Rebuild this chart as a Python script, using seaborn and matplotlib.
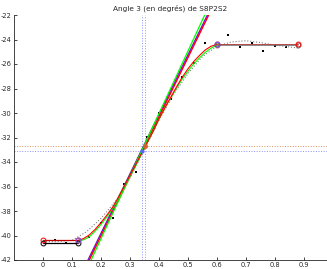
import matplotlib
matplotlib.use('Agg')
import matplotlib.pyplot as plt
import seaborn as sns

# measured points (black dots)
pts_x = [0.04, 0.08, 0.16, 0.20, 0.24, 0.28, 0.32, 0.36, 0.40, 0.44, 0.48,
         0.52, 0.56, 0.64, 0.68, 0.72, 0.76, 0.80, 0.84]
pts_y = [-40.35, -40.65, -40.1, -38.95, -38.55, -35.8, -34.85, -31.95, -30.0, -28.85, -27.1,
         -25.9, -24.3, -23.6, -24.65, -24.3, -24.9, -24.5, -24.6]

# smoothed fit (grey dotted)
fit_x = [0.0, 0.05, 0.10, 0.15, 0.20, 0.25, 0.30, 0.35, 0.40, 0.45, 0.50,
         0.55, 0.60, 0.65, 0.70, 0.75, 0.80, 0.85, 0.88]
fit_y = [-40.5, -40.5, -40.4, -39.7, -38.6, -37.2, -35.3, -33.0, -30.6, -28.5, -26.8,
         -25.4, -24.55, -24.2, -24.1, -24.25, -24.45, -24.6, -24.7]

# S-shaped model curves
curve_x = [0.12, 0.14, 0.16, 0.18, 0.20, 0.22, 0.24, 0.26, 0.28, 0.30, 0.32, 0.34,
           0.36, 0.38, 0.40, 0.42, 0.44, 0.46, 0.48, 0.50, 0.52, 0.54, 0.56, 0.58, 0.60]
red_curve = [-40.4, -40.25, -39.95, -39.5, -38.95, -38.35, -37.7, -36.9, -36.0, -35.1, -34.2, -33.3,
             -32.4, -31.5, -30.5, -29.6, -28.75, -27.9, -27.1, -26.4, -25.8, -25.3, -24.85, -24.55, -24.4]
green_curve = [-40.45, -40.35, -40.1, -39.65, -39.1, -38.5, -37.8, -37.0, -36.1, -35.2, -34.3, -33.35,
               -32.4, -31.5, -30.5, -29.6, -28.8, -28.0, -27.25, -26.6, -26.0, -25.5, -25.05, -24.7, -24.45]

# plateaus
low_x = [0.0, 0.12]
low_red = [-40.4, -40.4]
low_black = [-40.6, -40.6]
high_x = [0.6, 0.88]
high_red = [-24.4, -24.4]
high_black = [-24.45, -24.45]

# tangent lines: x where each crosses y=-42 and y=-22
tan_y = [-42, -22]
tan_lines = {
    'dimgray': [0.155, 0.567],
    'blue': [0.157, 0.569],
    'magenta': [0.158, 0.570],
    'red': [0.160, 0.572],
    'lime': [0.166, 0.558],
}

# inflection points (crosshairs)
blue_pt = (0.342, -33.08)
orange_pt = (0.353, -32.73)

sns.set_style('ticks')
plt.rcParams['axes.unicode_minus'] = False
fig = plt.figure(figsize=(3.27, 2.69), dpi=100)
ax = fig.add_axes([14 / 327, 9 / 269, 1 - 14 / 327, 245 / 269])

# crosshairs
ax.axvline(blue_pt[0], color='#9090ff', ls=':', lw=0.7)
ax.axhline(blue_pt[1], color='#9090ff', ls=':', lw=0.7)
ax.axvline(orange_pt[0], color='#d89060', ls=':', lw=0.7)
ax.axhline(orange_pt[1], color='#d89060', ls=':', lw=0.7)

for c, xs in tan_lines.items():
    sns.lineplot(x=xs, y=tan_y, color=c, lw=0.9, ax=ax, sort=False)

sns.lineplot(x=fit_x, y=fit_y, color='gray', ls=':', lw=0.8, ax=ax, sort=False)
sns.lineplot(x=curve_x, y=green_curve, color='lime', lw=0.8, ax=ax, sort=False)
sns.lineplot(x=curve_x, y=red_curve, color='red', lw=0.8, ax=ax, sort=False)

sns.lineplot(x=low_x, y=low_black, color='black', lw=0.9, marker='o', mfc='none',
             mec='black', ms=3.5, mew=0.7, ax=ax)
sns.lineplot(x=low_x, y=low_red, color='#c00000', lw=0.9, marker='o', mfc='none',
             mec='red', ms=3.5, mew=0.7, ax=ax)
sns.lineplot(x=high_x, y=high_black, color='dimgray', lw=1.1, marker='o', mfc='none',
             mec='dimgray', ms=3.5, mew=0.7, ax=ax)
sns.lineplot(x=high_x, y=high_red, color='#c04040', lw=0.6, marker='o', mfc='none',
             mec='red', ms=3.5, mew=0.7, ax=ax)
ax.plot([0.12], [-40.4], 'o', mfc='none', mec='#6060ff', ms=3.5, mew=0.7)
ax.plot([0.6], [-24.4], 'o', mfc='none', mec='#6060ff', ms=3.5, mew=0.7)

sns.scatterplot(x=pts_x, y=pts_y, color='black', s=2.5, marker='s', linewidth=0, ax=ax)

ax.plot([blue_pt[0]], [blue_pt[1]], 'o', color='#6060ff', ms=2)
ax.plot([orange_pt[0]], [orange_pt[1]], 'o', color='#d06030', ms=2.5)

ax.set_xlim(-0.1, 0.98)
ax.set_ylim(-42, -22)
ax.set_xticks([0, 0.1, 0.2, 0.3, 0.4, 0.5, 0.6, 0.7, 0.8, 0.9])
ax.set_xticklabels(['0', '0.1', '0.2', '0.3', '0.4', '0.5', '0.6', '0.7', '0.8', '0.9'])
ax.set_yticks(range(-42, -21, 2))
ax.tick_params(direction='in', labelsize=4.8, length=2, width=0.6, pad=1.5)
for s in ['top', 'right']:
    ax.spines[s].set_visible(False)
for s in ['left', 'bottom']:
    ax.spines[s].set_linewidth(0.6)
ax.set_title('Angle 3 (en degrés) de S8P2S2', fontsize=5.3, pad=3)

fig.savefig('out.png', dpi=100)
